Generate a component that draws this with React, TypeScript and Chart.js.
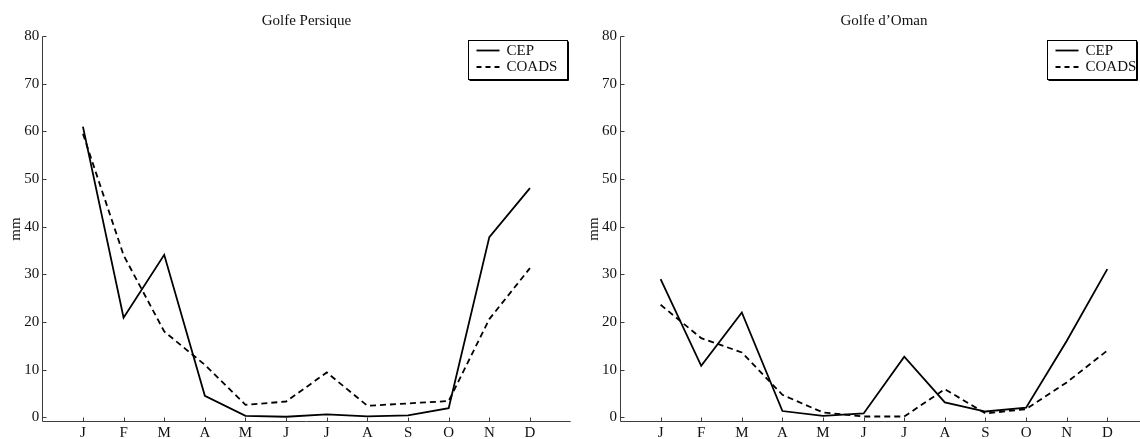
import React, { useEffect, useRef } from 'react';
import { Chart, registerables } from 'chart.js';

Chart.register(...registerables);

// ---- data ----
const monthLabels = ['J', 'F', 'M', 'A', 'M', 'J', 'J', 'A', 'S', 'O', 'N', 'D'];
const monthPositions = [1, 2, 3, 4, 5, 6, 7, 8, 9, 10, 11, 12];
const yTickValues = [0, 10, 20, 30, 40, 50, 60, 70, 80];
const seriesNames = ['CEP', 'COADS'];
const chartTitles = ['Golfe Persique', 'Golfe d\u2019Oman'];
const yAxisTitle = 'mm';

const persiqueCEP = [61.0, 20.9, 34.1, 4.5, 0.3, 0.1, 0.6, 0.2, 0.4, 1.9, 37.8, 48.1];
const persiqueCOADS = [59.5, 34.0, 18.0, 11.0, 2.6, 3.3, 9.4, 2.4, 2.9, 3.4, 20.6, 31.3];
const omanCEP = [29.0, 10.8, 22.0, 1.3, 0.3, 0.8, 12.7, 3.1, 1.2, 2.0, 16.0, 31.1];
const omanCOADS = [23.6, 16.6, 13.6, 4.7, 1.0, 0.15, 0.15, 5.9, 0.8, 1.7, 7.3, 14.0];

const FONT = "'Liberation Serif', 'DejaVu Serif', serif";
const AXIS_COLOR = '#3c3c3c';

const decorPlugin = {
  id: 'decor',
  afterDraw(chart: any, _args: any, opts: any) {
    const { ctx, chartArea } = chart;
    const xs = chart.scales.x;
    const ys = chart.scales.y;
    ctx.save();
    const axX = Math.round(chartArea.left) + 0.5;
    const axY = Math.round(chartArea.bottom) - 0.5;
    ctx.strokeStyle = AXIS_COLOR;
    ctx.lineWidth = 1;
    ctx.beginPath();
    ctx.moveTo(axX, Math.round(ys.getPixelForValue(80)) + 0.5);
    ctx.lineTo(axX, axY);
    ctx.lineTo(chartArea.right, axY);
    ctx.stroke();
    // inward ticks
    ctx.beginPath();
    yTickValues.forEach((v) => {
      const py = Math.round(ys.getPixelForValue(v)) + 0.5;
      ctx.moveTo(axX, py);
      ctx.lineTo(axX + 4, py);
    });
    monthPositions.forEach((v) => {
      const px = Math.round(xs.getPixelForValue(v)) + 0.5;
      ctx.moveTo(px, axY);
      ctx.lineTo(px, axY - 4);
    });
    ctx.stroke();

    // title
    ctx.fillStyle = '#111';
    ctx.font = `15px ${FONT}`;
    ctx.textAlign = 'center';
    ctx.textBaseline = 'middle';
    ctx.fillText(opts.title, (chartArea.left + chartArea.right) / 2, 21);

    // y axis title
    ctx.save();
    ctx.translate(chartArea.left - 26, (chartArea.top + chartArea.bottom) / 2);
    ctx.rotate(-Math.PI / 2);
    ctx.fillText(yAxisTitle, 0, 0);
    ctx.restore();

    // legend
    const w = opts.legendWidth;
    const h = 39;
    const lx = Math.round(chartArea.right - opts.legendInset - w) + 0.5;
    const ly = 40.5;
    ctx.fillStyle = '#fff';
    ctx.fillRect(lx, ly, w, h);
    ctx.strokeStyle = '#000';
    ctx.lineWidth = 1;
    ctx.strokeRect(lx, ly, w, h);
    ctx.beginPath();
    ctx.moveTo(lx + w + 1, ly + 1);
    ctx.lineTo(lx + w + 1, ly + h + 1);
    ctx.lineTo(lx + 1, ly + h + 1);
    ctx.stroke();
    const rows = [ly + 10, ly + 26.5];
    seriesNames.forEach((name, i) => {
      ctx.strokeStyle = '#000';
      ctx.lineWidth = 1.8;
      ctx.setLineDash(i === 0 ? [] : [5, 4]);
      ctx.beginPath();
      ctx.moveTo(lx + 8, rows[i]);
      ctx.lineTo(lx + 31, rows[i]);
      ctx.stroke();
      ctx.setLineDash([]);
      ctx.fillStyle = '#111';
      ctx.textAlign = 'left';
      ctx.textBaseline = 'middle';
      ctx.fillText(name, lx + 38, rows[i] + 0.5);
    });
    ctx.restore();
  },
};

function PanelChart(props: {
  title: string;
  cep: number[];
  coads: number[];
  width: number;
  yWidth: number;
  padRight: number;
  legendInset: number;
  legendWidth: number;
}) {
  const ref = useRef<HTMLCanvasElement | null>(null);
  useEffect(() => {
    if (!ref.current) return;
    const toPts = (arr: number[]) => arr.map((v, i) => ({ x: monthPositions[i], y: v }));
    const chart = new Chart(ref.current, {
      type: 'line',
      data: {
        datasets: [
          {
            label: seriesNames[0],
            data: toPts(props.cep),
            borderColor: '#000',
            borderWidth: 1.8,
            pointRadius: 0,
            tension: 0,
            fill: false,
          },
          {
            label: seriesNames[1],
            data: toPts(props.coads),
            borderColor: '#000',
            borderWidth: 1.8,
            borderDash: [6, 4],
            pointRadius: 0,
            tension: 0,
            fill: false,
          },
        ],
      },
      options: {
        responsive: false,
        animation: false,
        events: [],
        layout: { padding: { top: 36.1, left: 0, right: props.padRight, bottom: 0 } },
        plugins: {
          legend: { display: false },
          title: { display: false },
          tooltip: { enabled: false },
          decor: {
            title: props.title,
            legendInset: props.legendInset,
            legendWidth: props.legendWidth,
          },
        } as any,
        scales: {
          x: {
            type: 'linear',
            min: 0,
            max: 13,
            grid: { display: false, drawTicks: false },
            border: { display: false },
            afterBuildTicks: (s: any) => {
              s.ticks = monthPositions.map((v) => ({ value: v }));
            },
            afterFit: (s: any) => {
              s.height = 17;
            },
            ticks: {
              autoSkip: false,
              maxRotation: 0,
              padding: 2,
              color: '#111',
              font: { family: FONT, size: 15 },
              callback: (v: any) => monthLabels[monthPositions.indexOf(Number(v))] ?? '',
            },
          },
          y: {
            type: 'linear',
            min: -1,
            max: 80,
            grid: { display: false, drawTicks: false },
            border: { display: false },
            afterBuildTicks: (s: any) => {
              s.ticks = yTickValues.map((v) => ({ value: v }));
            },
            afterFit: (s: any) => {
              s.width = props.yWidth;
            },
            ticks: {
              padding: 3,
              color: '#111',
              font: { family: FONT, size: 15 },
            },
          },
        },
      },
      plugins: [decorPlugin],
    } as any);
    return () => chart.destroy();
  }, []);
  return (
    <canvas
      ref={ref}
      width={props.width}
      height={439}
      style={{ width: props.width, height: 439, display: 'block' }}
    />
  );
}

export default function App() {
  return (
    <div
      style={{
        position: 'fixed',
        left: 0,
        top: 0,
        width: 1140,
        height: 439,
        overflow: 'hidden',
        background: '#fff',
      }}
    >
      <div style={{ position: 'absolute', left: 0, top: 0 }}>
        <PanelChart
          title={chartTitles[0]}
          cep={persiqueCEP}
          coads={persiqueCOADS}
          width={575}
          yWidth={42.3}
          padRight={4.4}
          legendInset={4}
          legendWidth={99}
        />
      </div>
      <div style={{ position: 'absolute', left: 575, top: 0 }}>
        <PanelChart
          title={chartTitles[1]}
          cep={omanCEP}
          coads={omanCOADS}
          width={580}
          yWidth={45}
          padRight={7.1}
          legendInset={12}
          legendWidth={89}
        />
      </div>
    </div>
  );
}
